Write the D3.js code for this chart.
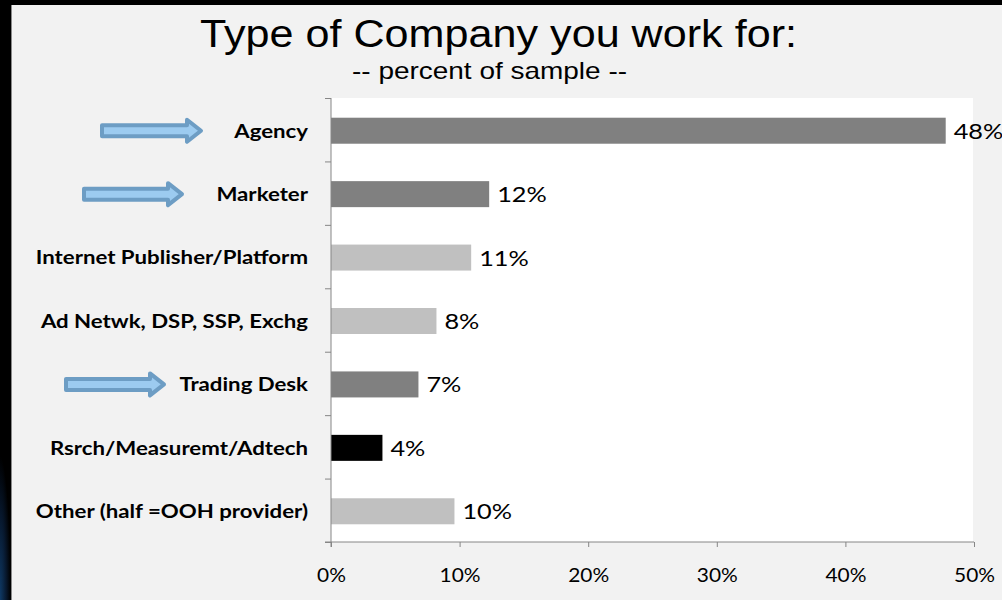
<!DOCTYPE html>
<html>
<head>
<meta charset="utf-8">
<script src="https://cdn.jsdelivr.net/npm/d3@7"></script>
<style>
  html, body { margin: 0; padding: 0; background: #000; }
  svg { display: block; }
</style>
</head>
<body>
<svg id="chart" width="1002" height="600"></svg>
<script>
// Survey answers: type of company the respondent works for (share of sample)
const categories = [
  "Agency",
  "Marketer",
  "Internet Publisher/Platform",
  "Ad Netwk, DSP, SSP, Exchg",
  "Trading Desk",
  "Rsrch/Measuremt/Adtech",
  "Other (half =OOH provider)"
];
const shares = [0.478, 0.123, 0.109, 0.082, 0.068, 0.040, 0.096];
const barColors = ["#808080", "#808080", "#c0c0c0", "#c0c0c0", "#808080", "#000000", "#c0c0c0"];
const highlighted = ["Agency", "Marketer", "Trading Desk"];
const xTicks = [0, 0.1, 0.2, 0.3, 0.4, 0.5];

const rows = categories.map((c, i) => ({ name: c, value: shares[i], color: barColors[i] }));

(function draw() {
  const svg = d3.select("#chart");
  const W = 1002, H = 600;
  const bodyFont = "Lato, 'Open Sans', sans-serif";
  const titleFont = "'Liberation Sans', Arial, sans-serif";
  const widen = 1.15; // slide text is set a little wide

  // Dark slide backdrop with a faint blue glow in the lower-left corner
  const defs = svg.append("defs");
  const glow = defs.append("radialGradient").attr("id", "glow")
    .attr("cx", 0).attr("cy", 1).attr("r", 0.9);
  glow.append("stop").attr("offset", "0%").attr("stop-color", "#0f3a66");
  glow.append("stop").attr("offset", "60%").attr("stop-color", "#07172c");
  glow.append("stop").attr("offset", "100%").attr("stop-color", "#000");
  svg.append("rect").attr("width", W).attr("height", H).attr("fill", "#000");
  svg.append("rect").attr("x", 0).attr("y", 440).attr("width", 12).attr("height", 160)
    .attr("fill", "url(#glow)");

  // Light chart panel
  svg.append("rect").attr("x", 11).attr("y", 5).attr("width", W - 11).attr("height", H - 5)
    .attr("fill", "#f2f2f2");
  svg.append("line").attr("x1", 11.5).attr("x2", 11.5).attr("y1", 5).attr("y2", H)
    .attr("stroke", "#8a8a8a").attr("stroke-width", 1);

  // Titles
  svg.append("text").attr("x", 200).attr("y", 47)
    .attr("textLength", 597).attr("lengthAdjust", "spacingAndGlyphs")
    .style("font-family", titleFont)
    .style("font-size", "38px").attr("fill", "#000")
    .text("Type of Company you work for:");
  svg.append("text").attr("x", 352).attr("y", 79)
    .attr("textLength", 275).attr("lengthAdjust", "spacingAndGlyphs")
    .style("font-family", titleFont)
    .style("font-size", "24px").attr("fill", "#000")
    .text("-- percent of sample --");

  // Plot area
  const plotL = 331, plotR = 974, plotT = 98, plotB = 542;
  const x = d3.scaleLinear().domain([0, 0.5]).range([plotL, plotR]);
  const y = d3.scaleBand().domain(categories).range([plotT, plotB])
    .paddingInner(0.59).paddingOuter(0.295);
  const slot = d3.scaleLinear().domain([0, categories.length]).range([plotT, plotB]);
  const midY = name => y(name) + 1 + y.bandwidth() / 2;

  svg.append("rect").attr("x", plotL).attr("y", plotT)
    .attr("width", x(0.5) - plotL - 1).attr("height", plotB - plotT)
    .attr("fill", "#ffffff");

  // Bars
  svg.append("g").selectAll("rect").data(rows).join("rect")
    .attr("x", x(0))
    .attr("y", d => y(d.name) + 1)
    .attr("width", d => x(d.value) - x(0))
    .attr("height", y.bandwidth())
    .attr("fill", d => d.color);

  // Value labels
  svg.append("g").selectAll("text").data(rows).join("text")
    .attr("transform", d => `translate(${x(d.value) + 8},${midY(d.name)}) scale(${widen},1)`)
    .attr("dy", "0.36em")
    .style("font-family", bodyFont)
    .style("font-size", "22px").attr("fill", "#000")
    .text(d => d3.format(".0%")(d.value));

  // Category axis: ticks between categories
  const yAxis = svg.append("g").attr("transform", `translate(${plotL},0)`)
    .call(d3.axisLeft(slot).tickValues(d3.range(0, categories.length + 1))
      .tickSize(6).tickFormat(""));
  yAxis.select(".domain").attr("stroke", "#868686").attr("d", `M0,${plotT}V${plotB + 5}`);
  yAxis.selectAll(".tick line").attr("stroke", "#868686");

  // Category names
  svg.append("g").selectAll("text").data(categories).join("text")
    .attr("transform", d => `translate(308,${midY(d)}) scale(1.17,1)`)
    .attr("dy", "0.36em")
    .attr("text-anchor", "end")
    .style("font-family", bodyFont)
    .style("font-weight", "bold")
    .style("font-size", "19px").attr("fill", "#000")
    .text(d => d);

  // Percent axis
  const xAxis = svg.append("g").attr("transform", `translate(0,${plotB})`)
    .call(d3.axisBottom(x).tickValues(xTicks).tickFormat(d3.format(".0%"))
      .tickSize(5).tickPadding(22));
  xAxis.select(".domain").attr("stroke", "#868686").attr("d", `M${plotL - 6},0H${plotR}`);
  xAxis.selectAll(".tick line").attr("stroke", "#868686");
  xAxis.selectAll(".tick text")
    .attr("transform", `scale(1.1,1)`)
    .attr("x", 0)
    .style("font-family", bodyFont)
    .style("font-size", "19px").attr("fill", "#000");

  // Blue arrows pointing at the highlighted company types
  const arrowSpan = { "Agency": [102, 201], "Marketer": [84, 182], "Trading Desk": [66, 164] };
  const arrowPath = (x0, x1, cy) => {
    const sh = 5.5, hh = 11, hl = 14;
    return `M${x0},${cy - sh}H${x1 - hl}V${cy - hh}L${x1},${cy}L${x1 - hl},${cy + hh}V${cy + sh}H${x0}Z`;
  };
  const arrows = svg.append("g");
  highlighted.forEach(name => {
    const [x0, x1] = arrowSpan[name];
    const cy = midY(name);
    arrows.append("path").attr("d", arrowPath(x0, x1, cy))
      .attr("fill", "#9ccbf0").attr("stroke", "#6d9dc4")
      .attr("stroke-width", 4).attr("stroke-linejoin", "round");
  });
})();
</script>
</body>
</html>
